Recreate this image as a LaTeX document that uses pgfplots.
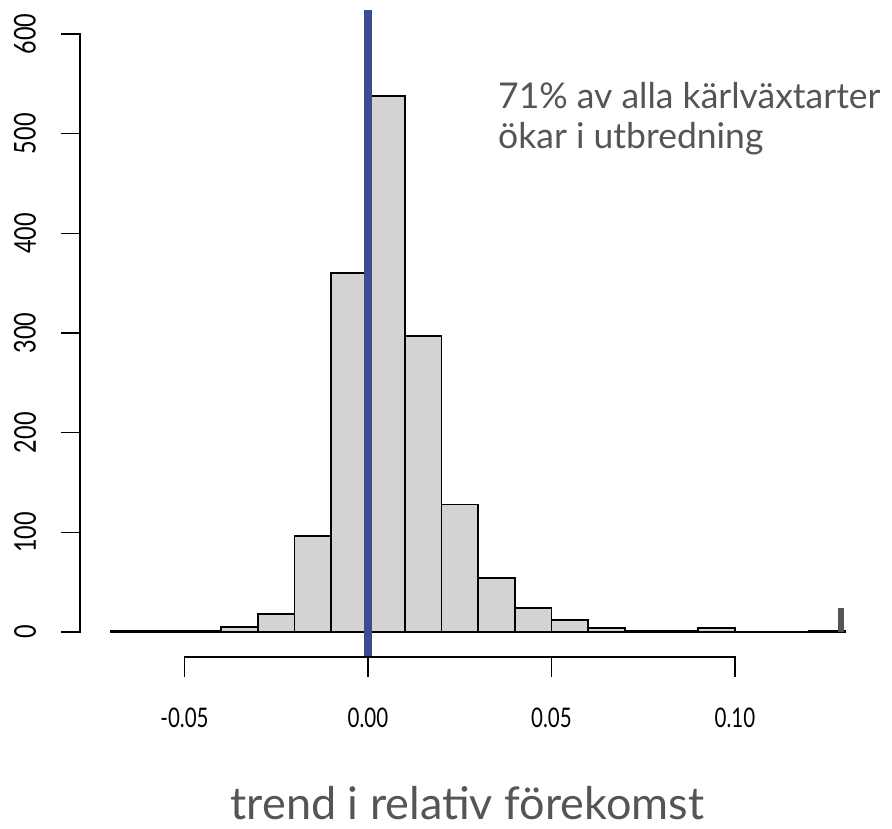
\documentclass[border=0pt]{standalone}
\usepackage{pgfplots}
\pgfplotsset{compat=1.18}
\usepackage{graphicx}
\usepackage{fontspec}
\setmainfont{Lato}
\definecolor{barfill}{RGB}{211,211,211}
\definecolor{zeroline}{RGB}{61,76,145}
\definecolor{txtgray}{RGB}{85,85,85}
\newcommand{\xtl}[1]{\scalebox{0.76}[1]{#1}}
\newcommand{\ytl}[1]{\scalebox{0.78}[1]{#1}}
\begin{document}
\begin{tikzpicture}
\begin{axis}[
  scale only axis,
  width=892pt, height=829pt,
  xmin=-0.100272, xmax=0.142779,
  ymin=-197.65, ymax=634.1,
  hide axis,
  clip=false,
]
\path (rel axis cs:0,0) rectangle (rel axis cs:1,1);
\addplot[ybar interval, fill=barfill, draw=black, line width=1.7pt] coordinates {
(-0.07,1) (-0.06,1) (-0.05,1) (-0.04,5) (-0.03,18) (-0.02,96) (-0.01,360)
(0.00,538) (0.01,297) (0.02,128) (0.03,54) (0.04,24) (0.05,12) (0.06,4)
(0.07,1) (0.08,1) (0.09,4) (0.10,0) (0.11,0) (0.12,1) (0.13,1)
};
\addplot[color=txtgray, line width=6pt] coordinates {(0.1290,0) (0.1290,24)};
\addplot[color=zeroline, line width=8pt] coordinates {(0,-25) (0,624)};
% y axis
\draw[line width=1.5pt] (axis cs:-0.08365,0) -- (axis cs:-0.07847,0) -- (axis cs:-0.07847,600) -- (axis cs:-0.08365,600);
\pgfplotsinvokeforeach{100,200,300,400,500}{
  \draw[line width=1.5pt] (axis cs:-0.08365,#1) -- (axis cs:-0.07847,#1);
}
\pgfplotsinvokeforeach{0,100,200,300,400,500,600}{
  \node[rotate=90, font=\fontsize{30}{34}\selectfont] at (axis cs:-0.09346,#1) {\ytl{#1}};
}
% x axis
\draw[line width=1.5pt] (axis cs:-0.05,-45.1) -- (axis cs:-0.05,-25.1) -- (axis cs:0.10,-25.1) -- (axis cs:0.10,-45.1);
\draw[line width=1.5pt] (axis cs:0,-25.1) -- (axis cs:0,-45.1);
\draw[line width=1.5pt] (axis cs:0.05,-25.1) -- (axis cs:0.05,-45.1);
\node[font=\fontsize{27}{30}\selectfont] at (axis cs:-0.05,-86.3) {\xtl{-0.05}};
\node[font=\fontsize{27}{30}\selectfont] at (axis cs:0,-86.3) {\xtl{0.00}};
\node[font=\fontsize{27}{30}\selectfont] at (axis cs:0.05,-86.3) {\xtl{0.05}};
\node[font=\fontsize{27}{30}\selectfont] at (axis cs:0.10,-86.3) {\xtl{0.10}};
\node[anchor=base, inner sep=0pt, font=\fontsize{45}{50}\selectfont, text=txtgray] at (axis cs:0.02708,-188.6) {trend i relativ förekomst};
\node[anchor=base west, font=\fontsize{35.5}{40}\selectfont, text=txtgray, inner sep=0pt] at (axis cs:0.03542,525.7) {71\% av alla kärlväxtarter};
\node[anchor=base west, font=\fontsize{35.5}{40}\selectfont, text=txtgray, inner sep=0pt] at (axis cs:0.03542,485.6) {ökar i utbredning};
\end{axis}
\end{tikzpicture}
\end{document}
